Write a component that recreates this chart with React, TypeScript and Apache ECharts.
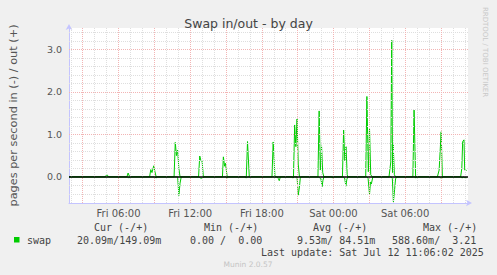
import React, { useEffect, useRef } from 'react';
import * as echarts from 'echarts';

// Hours counted from Fri 00:00
const xMin = 1.85;
const xMax = 35.267;
const xTickHours = [6, 12, 18, 24, 30];
const xTickLabels = ['Fri 06:00', 'Fri 12:00', 'Fri 18:00', 'Sat 00:00', 'Sat 06:00'];
const yTickValues = [0, 1, 2, 3];
const yMinorGrid = [-0.4, -0.2, 0.2, 0.4, 0.6, 0.8, 1.2, 1.4, 1.6, 1.8, 2.2, 2.4, 2.6, 2.8, 3.2, 3.4];
const yMajorGrid = [1, 2, 3];
const xMinorGrid = [2, 4, 5, 7, 8, 10, 11, 13, 14, 16, 17, 19, 20, 22, 23, 25, 26, 28, 29, 31, 32, 34, 35];
const xMajorGrid = [3, 6, 9, 12, 15, 18, 21, 24, 27, 30, 33];

// pages per second swapped out (+)
const swapOut: [number, number][] = [
  [1.85, 0],
  [4.9, 0], [5.0, 0.05], [5.1, 0.03], [5.2, 0],
  [6.7, 0], [6.8, 0.09], [6.9, 0.02], [7.0, 0],
  [8.6, 0], [8.7, 0.17], [8.8, 0.1], [8.95, 0.26], [9.05, 0.12], [9.15, 0],
  [10.65, 0], [10.75, 0.81], [10.85, 0.5], [10.95, 0.63], [11.05, 0.2], [11.15, 0],
  [12.7, 0], [12.8, 0.49], [12.9, 0.38], [13.0, 0.37], [13.1, 0],
  [14.7, 0], [14.78, 0.47], [14.88, 0.25], [14.95, 0.32], [15.1, 0],
  [16.7, 0], [16.8, 0.83], [16.95, 0],
  [18.85, 0], [18.95, 0.82], [19.1, 0],
  [20.65, 0], [20.75, 1.22], [20.85, 0.71], [20.95, 1.36], [21.05, 0.3], [21.15, 0],
  [22.7, 0], [22.8, 1.55], [22.9, 0.16], [23.0, 0.73], [23.1, 0.1], [23.2, 0],
  [24.75, 0], [24.85, 1.1], [24.95, 0.38], [25.05, 0.71], [25.15, 0.05], [25.2, 0],
  [26.7, 0], [26.8, 1.89], [26.92, 0.12], [27.02, 1.13], [27.12, 0.05], [27.25, 0],
  [28.65, 0], [28.8, 0.35], [28.88, 3.21], [28.95, 0.1], [29.0, 0.79], [29.1, 0.05], [29.2, 0],
  [30.65, 0], [30.75, 1.57], [30.88, 0],
  [32.7, 0], [32.85, 0.16], [33.02, 1.06], [33.12, 0],
  [34.65, 0], [34.75, 0.2], [34.82, 0.83], [34.93, 0.87], [34.99, 0.16], [35.15, 0.15],
];

// pages per second swapped in (-), drawn below zero
const swapIn: [number, number][] = [
  [1.85, 0],
  [6.75, 0], [6.85, 0.03], [6.95, 0],
  [9.05, 0], [9.15, 0.03], [9.25, 0],
  [10.95, 0], [11.05, 0.44], [11.15, 0.15], [11.25, 0],
  [12.75, 0], [12.85, 0.03], [13.05, 0.03], [13.15, 0],
  [15.0, 0], [15.1, 0.03], [15.2, 0],
  [16.6, 0], [16.7, 0.03], [16.8, 0],
  [19.25, 0], [19.38, 0.04], [19.46, 0.09], [19.55, 0],
  [20.5, 0], [20.6, 0.03], [20.7, 0],
  [20.95, 0], [21.05, 0.43], [21.15, 0.24], [21.22, 0.03], [21.3, 0],
  [22.75, 0], [22.85, 0.03], [22.95, 0.05], [23.05, 0.23], [23.12, 0.08], [23.2, 0],
  [23.85, 0], [23.92, 0.03], [24.0, 0],
  [24.85, 0], [24.95, 0.05], [25.04, 0.22], [25.12, 0.06], [25.2, 0],
  [26.8, 0], [26.9, 0.04], [27.02, 0.41], [27.1, 0.12], [27.17, 0.17], [27.3, 0],
  [28.85, 0], [28.93, 0.04], [29.02, 0.59], [29.12, 0.3], [29.2, 0.05], [29.28, 0],
  [30.8, 0], [30.88, 0.03], [30.95, 0],
  [32.9, 0], [32.98, 0.03], [33.1, 0.03], [33.15, 0],
  [34.7, 0], [34.78, 0.03], [34.85, 0], [35.0, 0.02], [35.15, 0.02],
];

const legendHeaders = ['Cur (-/+)', 'Min (-/+)', 'Avg (-/+)', 'Max (-/+)'];
const legendValues = ['20.09m/149.09m', '0.00 /  0.00', '9.53m/ 84.51m', '588.60m/  3.21'];
const lastUpdate = 'Last update: Sat Jul 12 11:06:02 2025';

const GREEN = '#00CC00';
const MONO = '"DejaVu Sans Mono", monospace';
const SANS = '"DejaVu Sans", sans-serif';

export default function App() {
  const ref = useRef<HTMLDivElement>(null);
  useEffect(() => {
    if (!ref.current) return;
    const chart = echarts.init(ref.current, null, { renderer: 'svg' });
    const minorStyle = { color: '#dedede', width: 1, type: [1, 1] as any };
    const majorStyle = { color: '#f2b4b4', width: 1, type: [1, 1] as any };
    const headerX = [94, 204, 313, 423];
    const valueX = [77, 190, 297, 392];
    const graphic: any[] = [
      { type: 'rect', shape: { x: 14, y: 237, width: 5.5, height: 5.5 }, style: { fill: GREEN } },
      { type: 'text', x: 27, y: 240, style: { text: 'swap', fill: '#444', fontSize: 10, fontFamily: MONO, verticalAlign: 'middle' } },
      ...legendHeaders.map((t, i) => ({
        type: 'text', x: headerX[i], y: 227.5,
        style: { text: t, fill: '#444', fontSize: 10, fontFamily: MONO, verticalAlign: 'middle' },
      })),
      ...legendValues.map((t, i) => ({
        type: 'text', x: valueX[i], y: 240,
        style: { text: t, fill: '#444', fontSize: 10, fontFamily: MONO, verticalAlign: 'middle', whiteSpace: 'pre' },
      })),
      { type: 'text', x: 261, y: 252, style: { text: lastUpdate, fill: '#444', fontSize: 10, fontFamily: MONO, verticalAlign: 'middle' } },
      { type: 'text', x: 248, y: 264.5, style: { text: 'Munin 2.0.57', fill: '#c4c4c4', fontSize: 7.5, fontFamily: SANS, align: 'center', verticalAlign: 'middle' } },
      { type: 'text', x: 485, y: 52, rotation: -Math.PI / 2, style: { text: 'RRDTOOL / TOBI OETIKER', fill: '#c8c8c8', fontSize: 7, fontFamily: SANS, align: 'center', verticalAlign: 'middle' } },
    ];

    chart.setOption({
      animation: false,
      backgroundColor: '#F0F0F0',
      title: {
        text: 'Swap in/out - by day',
        left: 'center',
        top: 12,
        textStyle: { fontSize: 12.5, fontWeight: 'normal', color: '#444', fontFamily: SANS },
      },
      grid: { left: 67, width: 401, top: 28, height: 175, show: true, backgroundColor: '#ffffff', borderWidth: 0 },
      xAxis: {
        type: 'value',
        min: xMin,
        max: xMax,
        splitLine: { show: false },
        axisTick: { show: false },
        axisLine: {
          onZero: false,
          lineStyle: { color: '#c4c4ff', width: 1 },
          symbol: ['none', 'arrow'],
          symbolSize: [5, 6],
          symbolOffset: [0, 4],
        },
        axisLabel: {
          customValues: xTickHours,
          formatter: (v: number) => {
            const i = xTickHours.findIndex((h) => Math.abs(h - v) < 1e-6);
            return i >= 0 ? xTickLabels[i] : '';
          },
          margin: 5,
          color: '#555',
          fontSize: 10,
          fontFamily: SANS,
        },
      },
      yAxis: {
        type: 'value',
        min: -0.615,
        max: 3.5,
        name: 'pages per second in (-) / out (+)',
        nameLocation: 'middle',
        nameRotate: 90,
        nameGap: 50,
        nameTextStyle: { color: '#555', fontSize: 11.3, fontFamily: SANS },
        splitLine: { show: false },
        axisTick: { show: false },
        axisLine: {
          show: true,
          lineStyle: { color: '#c4c4ff', width: 1 },
          symbol: ['none', 'arrow'],
          symbolSize: [5, 6],
          symbolOffset: [0, 4],
        },
        axisLabel: {
          customValues: yTickValues,
          formatter: (v: number) => v.toFixed(1),
          margin: 7,
          color: '#555',
          fontSize: 9.5,
          fontFamily: SANS,
        },
      },
      legend: { show: false },
      series: [
        {
          type: 'line',
          name: 'grid',
          z: 1,
          silent: true,
          data: [[xMin, 0]],
          showSymbol: false,
          lineStyle: { opacity: 0 },
          markLine: {
            silent: true,
            symbol: 'none',
            label: { show: false },
            animation: false,
            data: [
              ...yMinorGrid.map((v) => ({ yAxis: v, lineStyle: minorStyle })),
              ...xMinorGrid.map((v) => ({ xAxis: v, lineStyle: minorStyle })),
              ...yMajorGrid.map((v) => ({ yAxis: v, lineStyle: majorStyle })),
              ...xMajorGrid.map((v) => ({ xAxis: v, lineStyle: majorStyle })),
            ],
          },
        },
        {
          type: 'line',
          name: 'swap in',
          z: 2,
          data: swapIn.map(([h, v]) => [h, -v]),
          showSymbol: false,
          lineStyle: { color: GREEN, width: 1 },
          itemStyle: { color: GREEN },
        },
        {
          type: 'line',
          name: 'swap',
          z: 3,
          data: swapOut,
          showSymbol: false,
          lineStyle: { color: GREEN, width: 1 },
          itemStyle: { color: GREEN },
        },
        {
          type: 'line',
          name: 'zero',
          z: 4,
          silent: true,
          data: [[xMin, 0]],
          showSymbol: false,
          lineStyle: { opacity: 0 },
          markLine: {
            silent: true,
            symbol: 'none',
            label: { show: false },
            animation: false,
            data: [{ yAxis: 0, lineStyle: { color: '#000', width: 1.5, type: 'solid' } }],
          },
        },
      ],
      graphic,
    });
    return () => chart.dispose();
  }, []);
  return <div ref={ref} style={{ position: 'fixed', left: 0, top: 0, width: 497, height: 275 }} />;
}
